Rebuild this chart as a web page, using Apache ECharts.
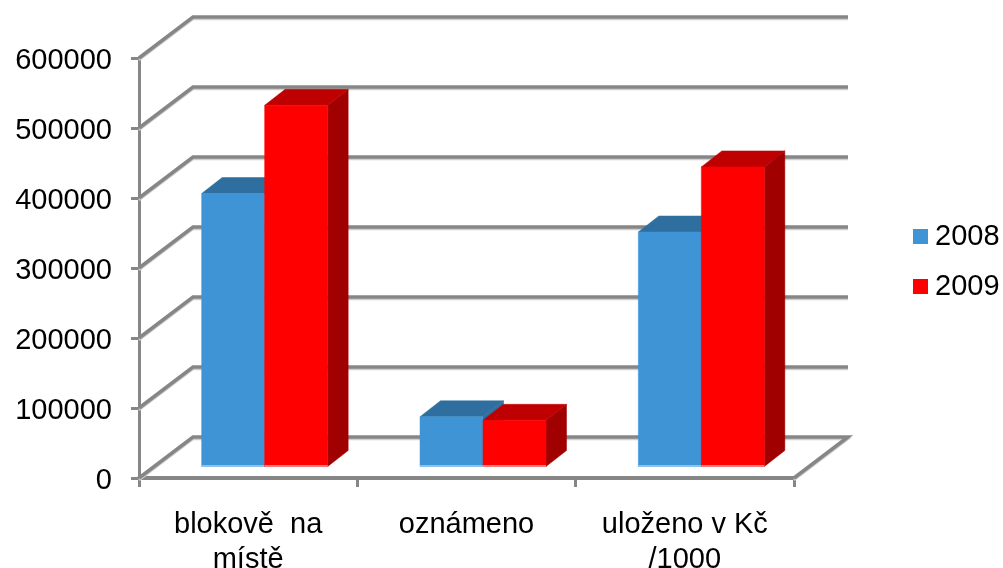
<!DOCTYPE html>
<html><head><meta charset="utf-8">
<style>html,body{margin:0;padding:0;background:#fff}#c{width:1003px;height:568px}</style>
<script src="https://cdn.jsdelivr.net/npm/echarts@6/dist/echarts.min.js"></script>
</head><body><div id="c"></div>
<script>
const categories = ['blokově  na\nmístě', 'oznámeno', 'uloženo v Kč\n/1000'];
const series2008 = [390000, 71000, 335000];
const series2009 = [516000, 66000, 428000];
const yTicks = [0, 100000, 200000, 300000, 400000, 500000, 600000];

const FONT = '"Liberation Sans", Arial, sans-serif';
const GRAY = '#868686', GRAY_SOFT = '#cfcfcf';
const WALL = [54, -41], BASE = [16.5, -11.5], DEPTH = [20.5, -16], BAR_W = 63;

function poly(points, fill) {
  return { type: 'polygon', shape: { points }, style: { fill, stroke: fill, lineWidth: 0.5 } };
}
function barSeries(name, values, side, c) {
  return {
    type: 'custom', name, z: 3 + side,
    itemStyle: { color: c.front },
    data: values.map((v, i) => [i, v]),
    renderItem(params, api) {
      const top = api.coord([api.value(0), api.value(1)]);
      const zero = api.coord([api.value(0), 0]);
      const x0 = top[0] + BASE[0] + (side === 0 ? -BAR_W : 0), x1 = x0 + BAR_W;
      const yT = top[1] + BASE[1], yB = zero[1] + BASE[1];
      const dx = DEPTH[0], dy = DEPTH[1];
      return { type: 'group', children: [
        poly([[x1, yT], [x1 + dx, yT + dy], [x1 + dx, yB + dy], [x1, yB]], c.side),
        poly([[x0, yT], [x0 + dx, yT + dy], [x1 + dx, yT + dy], [x1, yT]], c.top),
        poly([[x0, yT], [x1, yT], [x1, yB], [x0, yB]], c.front),
        { type: 'rect', shape: { x: x0, y: yB - 1.5, width: BAR_W, height: 2 }, style: { fill: c.edge } }
      ] };
    }
  };
}
const wallSeries = {
  type: 'custom', name: 'wall', z: 1, silent: true,
  data: yTicks.map(v => [0, v]),
  renderItem(params, api) {
    const band = api.size([1, 0])[0];
    const p = api.coord([0, api.value(1)]);
    const xL = p[0] - band / 2, y = p[1];
    const xR = xL + band * categories.length;
    const pts = [[xL, y], [xL + WALL[0], y + WALL[1]], [xR + WALL[0], y + WALL[1]]];
    if (api.value(1) === 0) pts.push([xR, y]);
    const soft = pts.map(q => [q[0], q[1] + 2]);
    return { type: 'group', children: [
      { type: 'polyline', shape: { points: soft }, style: { stroke: GRAY_SOFT, lineWidth: 2.5, fill: 'none' } },
      { type: 'polyline', shape: { points: pts }, style: { stroke: GRAY, lineWidth: 3.5, fill: 'none' } }
    ] };
  }
};
const chart = echarts.init(document.getElementById('c'), null, { renderer: 'canvas' });
chart.setOption({
  animation: false,
  backgroundColor: '#fff',
  grid: { left: 139, right: 209, top: 58, bottom: 90, outerBoundsMode: 'none' },
  legend: {
    data: [{ name: '2008', icon: 'rect' }, { name: '2009', icon: 'rect' }],
    orient: 'vertical', left: 913, top: 222, itemWidth: 15, itemHeight: 15, itemGap: 21,
    padding: 0, selectedMode: false,
    textStyle: { fontFamily: FONT, fontSize: 29, color: '#000', padding: [0, 0, 0, 2] }
  },
  xAxis: {
    type: 'category', data: categories, boundaryGap: true,
    axisLine: { lineStyle: { color: GRAY, width: 4 } },
    axisTick: { show: true, alignWithLabel: false, length: 9, lineStyle: { color: GRAY, width: 3 } },
    axisLabel: { interval: 0, fontFamily: FONT, fontSize: 29, color: '#000', margin: 29, lineHeight: 35 },
    splitLine: { show: false }
  },
  yAxis: {
    type: 'value', min: 0, max: 600000, interval: 100000,
    axisLine: { show: true, lineStyle: { color: GRAY, width: 3 } },
    axisTick: { show: true, length: 8, lineStyle: { color: GRAY, width: 3 } },
    axisLabel: { fontFamily: FONT, fontSize: 29, color: '#000', margin: 27, verticalAlign: 'top', lineHeight: 6, formatter: v => String(v) },
    splitLine: { show: false }
  },
  series: [
    wallSeries,
    barSeries('2008', series2008, 0, { front: '#3f94d6', top: '#2f6f9f', side: '#2f6f9f', edge: '#8fc2ea' }),
    barSeries('2009', series2009, 1, { front: '#ff0000', top: '#bf0000', side: '#a00000', edge: '#ff7a7a' })
  ]
});
</script></body></html>
